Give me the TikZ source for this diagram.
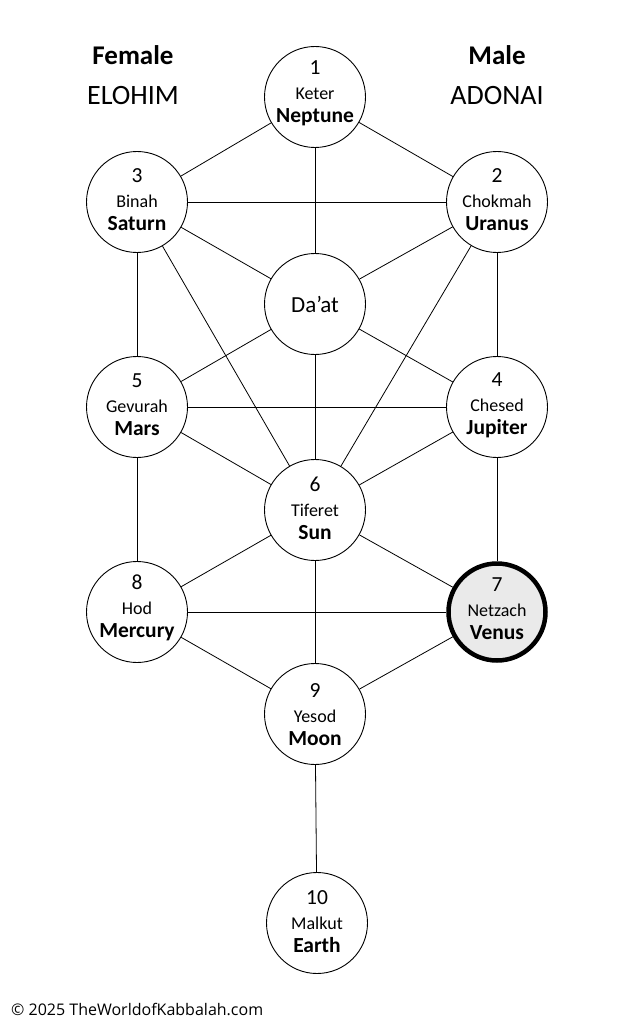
\documentclass[tikz,border=0pt]{standalone}
\usepackage{fontspec}
\setmainfont{Carlito}
\newfontfamily\footfont{Open Sans}
\definecolor{netz}{HTML}{EAEAEA}
\begin{document}
\begin{tikzpicture}[x=1pt,y=-1pt,
  sef/.style={circle,draw=black,line width=0.9pt,fill=white,minimum size=101pt,inner sep=0pt},
  sefbold/.style={sef,line width=4.5pt,fill=netz,minimum size=97pt},
  conn/.style={line width=0.8pt,draw=black},
  snum/.style={anchor=base,inner sep=0pt,font=\fontsize{21.5}{21.5}\selectfont},
  sheb/.style={anchor=base,inner sep=0pt,font=\fontsize{18}{18}\selectfont},
  spla/.style={anchor=base,inner sep=0pt,font=\fontsize{21.5}{21.5}\selectfont\bfseries},
  shead/.style={anchor=base,inner sep=0pt,font=\fontsize{27}{27}\selectfont\bfseries},
  sname/.style={anchor=base,inner sep=0pt,font=\fontsize{28}{28}\selectfont}]
\useasboundingbox[fill=white] (0,0) rectangle (633,1024);
% circles
\node[sef] (s1) at (315,97) {};
\node[sef] (s3) at (137,202) {};
\node[sef] (s2) at (497,202) {};
\node[sef] (sd) at (315,304) {};
\node[sef] (s5) at (137,407) {};
\node[sef] (s4) at (497,407) {};
\node[sef] (s6) at (315,510) {};
\node[sef] (s8) at (137,612) {};
\node[sefbold] (s7) at (497,612) {};
\node[sef] (s9) at (315,714) {};
\node[sef] (s10) at (317,923) {};
% connectors
\foreach \a/\b in {s1/s3,s1/s2,s1/sd,s3/s2,s3/s5,s3/sd,s3/s6,s2/sd,s2/s4,s2/s6,
  sd/s5,sd/s4,sd/s6,s5/s4,s5/s6,s5/s8,s4/s6,s4/s7,s6/s8,s6/s7,s6/s9,s8/s7,s8/s9,s7/s9,s9/s10}
  \draw[conn] (\a) -- (\b);
% texts
\newcommand{\sefira}[5]{%
  \node[snum] (#1n) at ([yshift={20pt-(#2pt)}]#1.center) {#3};
  \node[sheb] (#1h) at ([yshift={-5pt-(#2pt)}]#1.center) {#4};
  \node[spla] (#1p) at ([yshift={-28pt-(#2pt)}]#1.center) {#5};}
\sefira{s1}{-2}{1}{Keter}{Neptune}
\sefira{s3}{1}{3}{Binah}{Saturn}
\sefira{s2}{1}{2}{Chokmah}{Uranus}
\sefira{s5}{0}{5}{Gevurah}{Mars}
\sefira{s4}{-1}{4}{Chesed}{Jupiter}
\sefira{s6}{1}{6}{Tiferet}{Sun}
\sefira{s8}{-3}{8}{Hod}{Mercury}
\sefira{s7}{-1}{7}{Netzach}{Venus}
\sefira{s9}{3}{9}{Yesod}{Moon}
\sefira{s10}{1}{10}{Malkut}{Earth}
\node[anchor=base,inner sep=0pt,font=\fontsize{23}{23}\selectfont] (dat) at ([yshift=-8pt]sd.center) {Da’at};
% headings
\node[shead] (fem) at (133,65) {Female};
\node[sname] (elo) at (133,105) {ELOHIM};
\node[shead] (male) at (497,65) {Male};
\node[sname] (ado) at (497,105) {ADONAI};
% footer
\node[anchor=base west,inner sep=0pt,font=\footfont\fontsize{16}{16}\selectfont] (foot) at (11,1015) {© 2025 TheWorldofKabbalah.com};
\end{tikzpicture}
\end{document}
